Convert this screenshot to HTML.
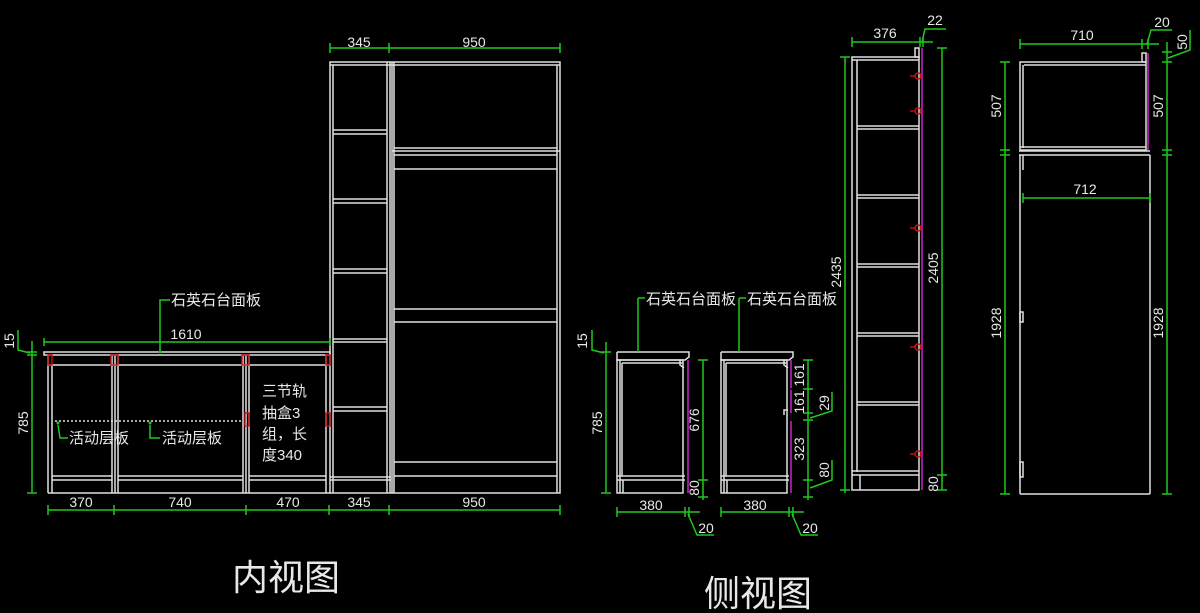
<!DOCTYPE html>
<html><head><meta charset="utf-8"><style>
html,body{margin:0;padding:0;background:#000;}
svg{display:block}
text{font-family:"Liberation Sans","Noto Sans CJK SC",sans-serif;fill:#e8e8e8;}
.w{stroke:#e0e0e0;stroke-width:1.5;fill:none}
.g{stroke:#1fc81f;stroke-width:1.5;fill:none}
.m{stroke:#c020c0;stroke-width:1.6;fill:none}
.r{stroke:#d01010;stroke-width:1.4;fill:none}
.d{font-size:14px;text-anchor:middle}
.c{font-size:15px}
</style></head><body>
<svg width="1200" height="613" viewBox="0 0 1200 613" xmlns="http://www.w3.org/2000/svg">
<g class="w">
<rect x="330" y="62" width="230" height="431"/>
<line x1="333" y1="65" x2="333" y2="493"/>
<line x1="330" y1="65" x2="560" y2="65"/>
<line x1="557" y1="65" x2="557" y2="493"/>
<line x1="387" y1="62" x2="387" y2="493"/><line x1="390" y1="62" x2="390" y2="493"/>
<line x1="392" y1="62" x2="392" y2="493"/><line x1="394" y1="62" x2="394" y2="493"/>
<line x1="333" y1="130" x2="387" y2="130"/><line x1="333" y1="134" x2="387" y2="134"/>
<line x1="333" y1="199" x2="387" y2="199"/><line x1="333" y1="203" x2="387" y2="203"/>
<line x1="333" y1="269" x2="387" y2="269"/><line x1="333" y1="273" x2="387" y2="273"/>
<line x1="333" y1="339" x2="387" y2="339"/><line x1="333" y1="342" x2="387" y2="342"/>
<line x1="333" y1="407" x2="387" y2="407"/><line x1="333" y1="411" x2="387" y2="411"/>
<line x1="330" y1="477" x2="391" y2="477"/><line x1="330" y1="480" x2="391" y2="480"/>
<line x1="394" y1="148" x2="557" y2="148"/><line x1="392" y1="151" x2="560" y2="151"/>
<line x1="394" y1="155" x2="557" y2="155"/><line x1="394" y1="169" x2="557" y2="169"/>
<line x1="394" y1="309" x2="557" y2="309"/><line x1="394" y1="322" x2="557" y2="322"/>
<line x1="394" y1="462" x2="557" y2="462"/><line x1="394" y1="476" x2="557" y2="476"/>
</g>
<g class="w">
<rect x="44" y="352" width="286" height="3"/>
<line x1="48" y1="365" x2="330" y2="365"/>
<line x1="48" y1="355" x2="48" y2="493"/><line x1="52" y1="365" x2="52" y2="493"/>
<line x1="112" y1="355" x2="112" y2="493"/><line x1="115" y1="355" x2="115" y2="493"/><line x1="118" y1="355" x2="118" y2="493"/>
<line x1="243" y1="355" x2="243" y2="493"/><line x1="246" y1="355" x2="246" y2="493"/><line x1="249" y1="355" x2="249" y2="493"/>
<line x1="326" y1="355" x2="326" y2="493"/>
<line x1="48" y1="493" x2="330" y2="493"/>
<line x1="52" y1="476" x2="112" y2="476"/><line x1="52" y1="480" x2="112" y2="480"/>
<line x1="118" y1="476" x2="243" y2="476"/><line x1="118" y1="480" x2="243" y2="480"/>
<line x1="249" y1="476" x2="326" y2="476"/><line x1="249" y1="480" x2="326" y2="480"/>
</g>
<line x1="55" y1="421" x2="243" y2="421" stroke="#e0e0e0" stroke-width="1.4" stroke-dasharray="2,2"/>
<g class="r">
<rect x="48" y="355" width="4" height="10"/><rect x="111" y="355" width="7" height="10"/>
<rect x="242" y="355" width="7" height="10"/><rect x="326" y="355" width="4" height="10"/>
<rect x="245" y="413" width="4" height="13"/><rect x="326" y="413" width="4" height="13"/>
</g>
<text class="c" x="262" y="396">三节轨</text>
<text class="c" x="262" y="418">抽盒3</text>
<text class="c" x="262" y="439">组，长</text>
<text class="c" x="262" y="460">度340</text>
<g class="g">
<line x1="330" y1="48" x2="560" y2="48"/>
<line x1="330" y1="43" x2="330" y2="53"/><line x1="389" y1="43" x2="389" y2="53"/><line x1="560" y1="43" x2="560" y2="53"/>
<line x1="44" y1="342" x2="330" y2="342"/><line x1="44" y1="338" x2="44" y2="346"/><line x1="330" y1="338" x2="330" y2="346"/>
<line x1="48" y1="510" x2="560" y2="510"/>
<line x1="48" y1="505" x2="48" y2="515"/><line x1="114" y1="505" x2="114" y2="515"/><line x1="246" y1="505" x2="246" y2="515"/><line x1="329" y1="505" x2="329" y2="515"/><line x1="389" y1="505" x2="389" y2="515"/><line x1="560" y1="505" x2="560" y2="515"/>
<line x1="32" y1="341" x2="32" y2="493"/><line x1="27" y1="352" x2="37" y2="352"/><line x1="27" y1="355" x2="37" y2="355"/><line x1="27" y1="493" x2="37" y2="493"/>
<polyline points="18,330 18,350 30,353"/>
<polyline points="170,300 160,300 160,352"/>
<polyline points="58,425 60,438 68,438"/><polyline points="150,425 150,438 160,438"/>
</g>
<g fill="#1fc81f"><circle cx="160" cy="352" r="1.5"/><circle cx="58" cy="423" r="1.5"/><circle cx="150" cy="423" r="1.5"/></g>
<text class="d" x="359" y="47">345</text><text class="d" x="474" y="47">950</text>
<text class="d" x="186" y="339">1610</text>
<text class="d" x="81" y="507">370</text><text class="d" x="180" y="507">740</text><text class="d" x="288" y="507">470</text><text class="d" x="359" y="507">345</text><text class="d" x="474" y="507">950</text>
<text class="d" transform="translate(28,423) rotate(-90)">785</text>
<text class="d" transform="translate(14,341) rotate(-90)">15</text>
<text class="c" x="171" y="305">石英石台面板</text>
<text class="c" x="69" y="443">活动层板</text>
<text class="c" x="162" y="443">活动层板</text>
<text x="232" y="590" style="font-size:36px">内视图</text>
<text x="704" y="606" style="font-size:36px">侧视图</text>

<g class="w">
<polyline points="617,352 689,352 689,357 685,360 617,360 617,352"/>
<rect x="617" y="360" width="66" height="133"/>
<line x1="620" y1="360" x2="620" y2="493"/><line x1="622" y1="363" x2="622" y2="476"/>
<line x1="622" y1="363" x2="683" y2="363"/>
<line x1="617" y1="476" x2="685" y2="476"/><line x1="617" y1="480" x2="685" y2="480"/>
<line x1="623" y1="480" x2="623" y2="493"/>
<polyline points="680,360 680,365 684,368"/>
</g>
<line class="m" x1="688" y1="360" x2="688" y2="493"/>
<g class="w">
<polyline points="721,352 793,352 793,357 789,360 721,360 721,352"/>
<rect x="721" y="360" width="66" height="133"/>
<line x1="724" y1="360" x2="724" y2="493"/><line x1="726" y1="363" x2="726" y2="476"/>
<line x1="726" y1="363" x2="787" y2="363"/>
<line x1="721" y1="476" x2="789" y2="476"/><line x1="721" y1="480" x2="789" y2="480"/>
<line x1="727" y1="480" x2="727" y2="493"/>
<polyline points="784,360 784,365 788,368"/>
<polyline points="784,415 784,410 788,410"/>
</g>
<g class="m"><line x1="791" y1="360" x2="791" y2="388"/><line x1="791" y1="390" x2="791" y2="413"/><line x1="791" y1="421" x2="791" y2="493"/></g>
<g class="g">
<line x1="606" y1="342" x2="606" y2="493"/><line x1="601" y1="352" x2="611" y2="352"/><line x1="601" y1="493" x2="611" y2="493"/>
<polyline points="592,330 592,350 604,353"/>
<line x1="703" y1="360" x2="703" y2="500"/><line x1="698" y1="360" x2="708" y2="360"/><line x1="698" y1="480" x2="708" y2="480"/><line x1="698" y1="497" x2="708" y2="497"/>
<line x1="617" y1="512" x2="700" y2="512"/><line x1="617" y1="507" x2="617" y2="517"/><line x1="685" y1="507" x2="685" y2="517"/><line x1="689" y1="507" x2="689" y2="517"/>
<polyline points="688,514 697,535 714,535"/>
<line x1="721" y1="512" x2="804" y2="512"/><line x1="721" y1="507" x2="721" y2="517"/><line x1="789" y1="507" x2="789" y2="517"/><line x1="793" y1="507" x2="793" y2="517"/>
<polyline points="792,514 801,535 818,535"/>
<line x1="808" y1="360" x2="808" y2="500"/>
<line x1="803" y1="360" x2="813" y2="360"/><line x1="803" y1="389" x2="813" y2="389"/><line x1="803" y1="413" x2="813" y2="413"/><line x1="803" y1="420" x2="813" y2="420"/><line x1="803" y1="480" x2="813" y2="480"/><line x1="803" y1="497" x2="813" y2="497"/>
<polyline points="810,418 832,411 832,392"/>
<polyline points="810,488 832,480 832,460"/>
<polyline points="638,298 638,352"/><line x1="638" y1="298" x2="645" y2="298"/>
<polyline points="739,298 739,352"/><line x1="739" y1="298" x2="746" y2="298"/>
<line x1="845" y1="57" x2="845" y2="493"/><line x1="840" y1="57" x2="850" y2="57"/><line x1="840" y1="490" x2="850" y2="490"/>
</g>
<text class="c" x="646" y="304">石英石台面板</text>
<text class="c" x="747" y="304">石英石台面板</text>
<text class="d" x="651" y="510">380</text><text class="d" x="755" y="510">380</text>
<text class="d" x="706" y="533">20</text><text class="d" x="810" y="533">20</text>
<text class="d" transform="translate(602,423) rotate(-90)">785</text>
<text class="d" transform="translate(587,341) rotate(-90)">15</text>
<text class="d" transform="translate(699,420) rotate(-90)">676</text>
<text class="d" transform="translate(699,488) rotate(-90)">80</text>
<text class="d" transform="translate(804,375) rotate(-90)">161</text>
<text class="d" transform="translate(804,402) rotate(-90)">161</text>
<text class="d" transform="translate(829,403) rotate(-90)">29</text>
<text class="d" transform="translate(804,449) rotate(-90)">323</text>
<text class="d" transform="translate(829,470) rotate(-90)">80</text>

<g class="w">
<rect x="852" y="57" width="67" height="433"/>
<line x1="852" y1="60" x2="919" y2="60"/>
<line x1="857" y1="60" x2="857" y2="472"/>
<rect x="915" y="48" width="4" height="9"/>
<line x1="857" y1="126" x2="919" y2="126"/><line x1="857" y1="129" x2="919" y2="129"/>
<line x1="857" y1="195" x2="919" y2="195"/><line x1="857" y1="198" x2="919" y2="198"/>
<line x1="857" y1="264" x2="919" y2="264"/><line x1="857" y1="267" x2="919" y2="267"/>
<line x1="857" y1="333" x2="919" y2="333"/><line x1="857" y1="336" x2="919" y2="336"/>
<line x1="857" y1="402" x2="919" y2="402"/><line x1="857" y1="405" x2="919" y2="405"/>
<line x1="852" y1="471" x2="919" y2="471"/><line x1="852" y1="475" x2="919" y2="475"/>
<line x1="860" y1="475" x2="860" y2="490"/>
</g>
<line class="m" x1="922" y1="48" x2="922" y2="490"/>
<g class="r">
<circle cx="918" cy="76" r="3"/><line x1="910" y1="76" x2="915" y2="76"/>
<circle cx="918" cy="111" r="3"/><line x1="910" y1="111" x2="915" y2="111"/>
<circle cx="918" cy="228" r="3"/><line x1="910" y1="228" x2="915" y2="228"/>
<circle cx="918" cy="347" r="3"/><line x1="910" y1="347" x2="915" y2="347"/>
<circle cx="918" cy="454" r="3"/><line x1="910" y1="454" x2="915" y2="454"/>
</g>
<g class="g">
<line x1="852" y1="42" x2="933" y2="42"/><line x1="852" y1="37" x2="852" y2="47"/><line x1="920" y1="37" x2="920" y2="47"/><line x1="923" y1="37" x2="923" y2="47"/>
<polyline points="922,42 925,29 946,29"/>
<line x1="942" y1="48" x2="942" y2="490"/><line x1="937" y1="48" x2="947" y2="48"/><line x1="937" y1="475" x2="947" y2="475"/><line x1="937" y1="490" x2="947" y2="490"/>
</g>
<text class="d" x="885" y="38">376</text>
<text class="d" x="935" y="25">22</text>
<text class="d" transform="translate(841,272) rotate(-90)">2435</text>
<text class="d" transform="translate(938,268) rotate(-90)">2405</text>
<text class="d" transform="translate(938,484) rotate(-90)">80</text>

<g class="w">
<rect x="1020" y="62" width="126" height="88"/>
<line x1="1023" y1="65" x2="1023" y2="148"/><line x1="1024" y1="65" x2="1146" y2="65"/>
<line x1="1020" y1="147" x2="1146" y2="147"/>
<rect x="1142" y="53" width="4" height="9"/>
<line x1="1019" y1="151" x2="1150" y2="151"/><line x1="1019" y1="155" x2="1150" y2="155"/>
<line x1="1020" y1="155" x2="1020" y2="494"/><line x1="1150" y1="155" x2="1150" y2="494"/>
<line x1="1020" y1="494" x2="1150" y2="494"/>
<line x1="1023" y1="155" x2="1023" y2="170"/>
<rect x="1020" y="462" width="3" height="15"/>
<rect x="1020" y="312" width="3" height="10"/>
</g>
<line class="m" x1="1148" y1="53" x2="1148" y2="150"/>
<g class="g">
<line x1="1020" y1="44" x2="1159" y2="44"/><line x1="1020" y1="39" x2="1020" y2="49"/><line x1="1142" y1="39" x2="1142" y2="49"/><line x1="1148" y1="39" x2="1148" y2="49"/>
<polyline points="1147,44 1151,30 1172,30"/>
<line x1="1023" y1="198" x2="1150" y2="198"/><line x1="1023" y1="193" x2="1023" y2="203"/><line x1="1150" y1="193" x2="1150" y2="203"/>
<line x1="1005" y1="62" x2="1005" y2="494"/><line x1="1000" y1="62" x2="1010" y2="62"/><line x1="1000" y1="150" x2="1010" y2="150"/><line x1="1000" y1="155" x2="1010" y2="155"/><line x1="1000" y1="494" x2="1010" y2="494"/>
<line x1="1167" y1="42" x2="1167" y2="494"/><line x1="1162" y1="52" x2="1172" y2="52"/><line x1="1162" y1="62" x2="1172" y2="62"/><line x1="1162" y1="150" x2="1172" y2="150"/><line x1="1162" y1="155" x2="1172" y2="155"/><line x1="1162" y1="494" x2="1172" y2="494"/>
<polyline points="1168,58 1190,50 1190,30"/>
</g>
<text class="d" x="1082" y="40">710</text>
<text class="d" x="1162" y="27">20</text>
<text class="d" transform="translate(1187,42) rotate(-90)">50</text>
<text class="d" x="1085" y="194">712</text>
<text class="d" transform="translate(1001,106) rotate(-90)">507</text>
<text class="d" transform="translate(1163,106) rotate(-90)">507</text>
<text class="d" transform="translate(1001,323) rotate(-90)">1928</text>
<text class="d" transform="translate(1163,323) rotate(-90)">1928</text>
</svg>
</body></html>
